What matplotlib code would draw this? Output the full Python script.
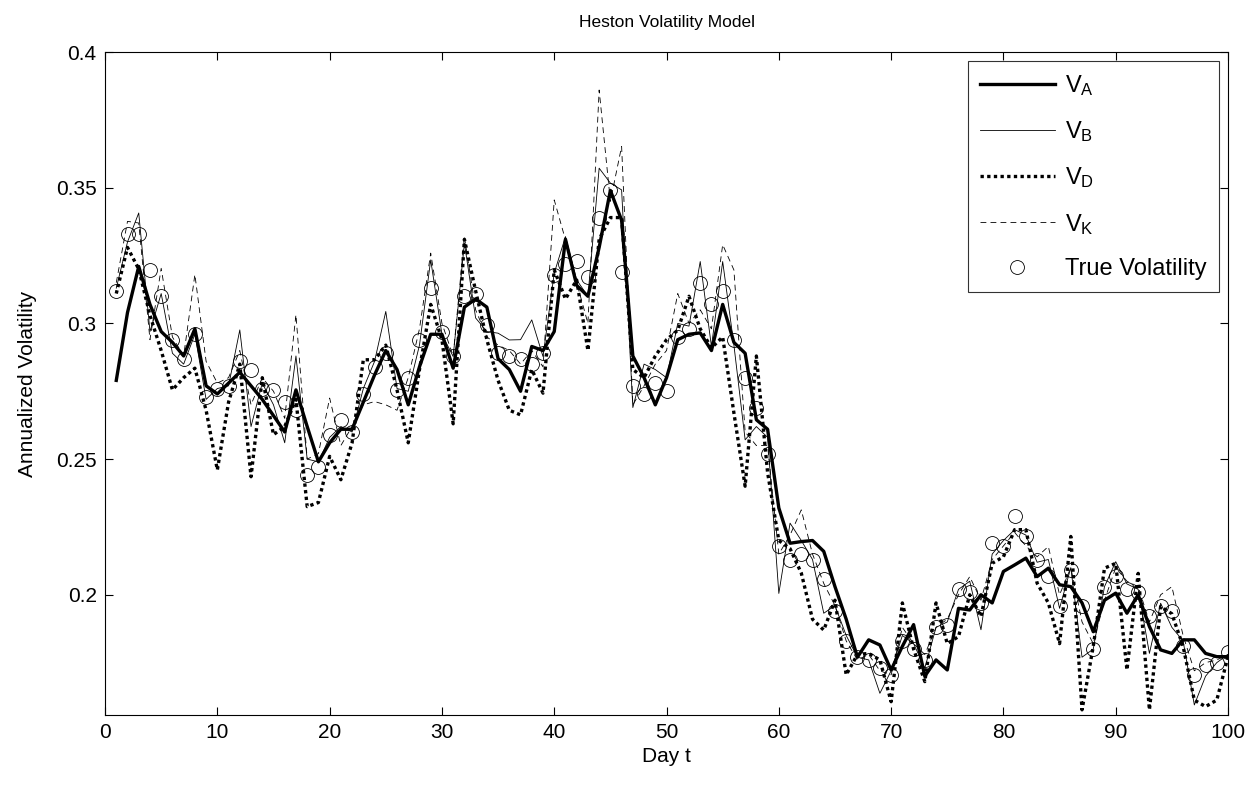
import numpy as np
import matplotlib
matplotlib.use("Agg")
import matplotlib.pyplot as plt

plt.rcParams['font.family'] = ['Liberation Sans', 'DejaVu Sans']

days = np.arange(1, 101)

true_vol = [0.312, 0.333, 0.333, 0.3195, 0.310, 0.294, 0.287, 0.296, 0.273, 0.276,
            0.277, 0.286, 0.283, 0.276, 0.2755, 0.271, 0.268, 0.244, 0.247, 0.259,
            0.2645, 0.260, 0.274, 0.284, 0.289, 0.2755, 0.280, 0.294, 0.313, 0.297,
            0.288, 0.310, 0.311, 0.2995, 0.289, 0.288, 0.287, 0.285, 0.289, 0.318,
            0.322, 0.323, 0.317, 0.339, 0.349, 0.319, 0.277, 0.274, 0.278, 0.275,
            0.295, 0.298, 0.315, 0.307, 0.312, 0.294, 0.280, 0.269, 0.252, 0.218,
            0.213, 0.215, 0.213, 0.206, 0.194, 0.183, 0.177, 0.176, 0.173, 0.1705,
            0.183, 0.180, 0.176, 0.188, 0.189, 0.202, 0.201, 0.197, 0.219, 0.218,
            0.229, 0.2215, 0.213, 0.207, 0.196, 0.209, 0.196, 0.180, 0.203, 0.207,
            0.202, 0.201, 0.192, 0.196, 0.194, 0.181, 0.1705, 0.174, 0.175, 0.179]

v_a = [0.279, 0.304, 0.321, 0.307, 0.297, 0.293, 0.288, 0.298, 0.277, 0.274,
       0.278, 0.282, 0.277, 0.272, 0.266, 0.260, 0.2755, 0.262, 0.249, 0.256,
       0.261, 0.261, 0.271, 0.281, 0.290, 0.283, 0.270, 0.284, 0.296, 0.296,
       0.2835, 0.306, 0.309, 0.306, 0.287, 0.283, 0.275, 0.2915, 0.290, 0.297,
       0.331, 0.314, 0.310, 0.328, 0.349, 0.338, 0.288, 0.280, 0.270, 0.280,
       0.294, 0.296, 0.2965, 0.290, 0.307, 0.293, 0.289, 0.2645, 0.261, 0.232,
       0.219, 0.2196, 0.220, 0.216, 0.203, 0.191, 0.177, 0.1834, 0.1815, 0.1723,
       0.181, 0.189, 0.170, 0.176, 0.1723, 0.195, 0.1944, 0.200, 0.197, 0.2086,
       0.211, 0.2135, 0.2067, 0.2098, 0.2037, 0.203, 0.197, 0.1864, 0.198, 0.2006,
       0.1932, 0.200, 0.1883, 0.1797, 0.1784, 0.1834, 0.1834, 0.1784, 0.1772, 0.1772]

v_b = [0.313, 0.330, 0.3407, 0.297, 0.311, 0.289, 0.285, 0.296, 0.272, 0.276,
       0.277, 0.2976, 0.262, 0.278, 0.270, 0.256, 0.288, 0.250, 0.249, 0.258,
       0.262, 0.260, 0.276, 0.286, 0.3044, 0.276, 0.275, 0.292, 0.3234, 0.296,
       0.2878, 0.3296, 0.302, 0.297, 0.2964, 0.2939, 0.294, 0.3013, 0.2878, 0.3185,
       0.332, 0.316, 0.310, 0.3572, 0.3517, 0.3492, 0.269, 0.285, 0.283, 0.280,
       0.300, 0.299, 0.3228, 0.2915, 0.3228, 0.292, 0.2571, 0.262, 0.258, 0.2005,
       0.2264, 0.220, 0.213, 0.1932, 0.196, 0.185, 0.177, 0.176, 0.1637, 0.172,
       0.185, 0.182, 0.173, 0.188, 0.190, 0.202, 0.205, 0.1871, 0.215, 0.220,
       0.224, 0.222, 0.212, 0.213, 0.195, 0.210, 0.177, 0.180, 0.203, 0.2122,
       0.204, 0.202, 0.1784, 0.1969, 0.188, 0.183, 0.1594, 0.170, 0.175, 0.178]

v_d = [0.311, 0.328, 0.320, 0.303, 0.290, 0.2755, 0.280, 0.2835, 0.268, 0.246,
       0.271, 0.285, 0.2435, 0.280, 0.259, 0.262, 0.272, 0.2325, 0.234, 0.251,
       0.2424, 0.256, 0.2866, 0.2866, 0.292, 0.2755, 0.256, 0.283, 0.307, 0.294,
       0.263, 0.331, 0.312, 0.294, 0.279, 0.268, 0.2663, 0.283, 0.2743, 0.3197,
       0.309, 0.316, 0.290, 0.331, 0.339, 0.339, 0.283, 0.280, 0.288, 0.294,
       0.2975, 0.310, 0.298, 0.291, 0.295, 0.267, 0.240, 0.288, 0.245, 0.220,
       0.217, 0.208, 0.191, 0.187, 0.198, 0.1705, 0.178, 0.1784, 0.176, 0.1606,
       0.197, 0.180, 0.168, 0.197, 0.182, 0.1846, 0.200, 0.192, 0.2116, 0.214,
       0.224, 0.224, 0.2043, 0.197, 0.182, 0.2215, 0.1576, 0.181, 0.2098, 0.2116,
       0.1723, 0.2079, 0.1576, 0.1957, 0.193, 0.181, 0.1612, 0.1588, 0.1612, 0.1772]

v_k = [0.315, 0.3376, 0.337, 0.294, 0.3203, 0.295, 0.288, 0.318, 0.286, 0.278,
       0.280, 0.290, 0.270, 0.280, 0.275, 0.265, 0.3032, 0.250, 0.252, 0.2725,
       0.255, 0.262, 0.270, 0.2712, 0.270, 0.268, 0.280, 0.298, 0.3259, 0.300,
       0.288, 0.332, 0.305, 0.295, 0.292, 0.290, 0.285, 0.290, 0.284, 0.3455,
       0.3308, 0.315, 0.300, 0.386, 0.345, 0.3652, 0.270, 0.277, 0.285, 0.290,
       0.311, 0.300, 0.305, 0.298, 0.329, 0.3197, 0.260, 0.255, 0.255, 0.215,
       0.222, 0.2313, 0.215, 0.2042, 0.196, 0.183, 0.176, 0.178, 0.172, 0.1705,
       0.188, 0.182, 0.178, 0.188, 0.191, 0.200, 0.2067, 0.198, 0.213, 0.218,
       0.223, 0.218, 0.214, 0.2178, 0.200, 0.210, 0.190, 0.182, 0.198, 0.210,
       0.205, 0.203, 0.190, 0.200, 0.203, 0.185, 0.172, 0.175, 0.176, 0.178]

fig = plt.figure(figsize=(12.55, 7.98), dpi=100)
ax = fig.add_axes([0.0837, 0.104, 0.8948, 0.8308])

ax.plot(days, v_a, color='black', lw=2.4, label=r'$\mathregular{V_A}$')
ax.plot(days, v_b, color='black', lw=0.6, label=r'$\mathregular{V_B}$')
ax.plot(days, v_d, color='black', lw=2.4, ls=(0, (1, 1)), label=r'$\mathregular{V_D}$')
ax.plot(days, v_k, color='black', lw=0.6, ls=(0, (7, 5)), label=r'$\mathregular{V_K}$')
ax.plot(days, true_vol, 'o', ms=10, mfc='none', mec='black', mew=0.6,
        label='True Volatility')

ax.set_xlim(0, 100)
ax.set_ylim(0.1557, 0.4)
ax.set_xticks(np.arange(0, 101, 10))
ax.set_yticks([0.2, 0.25, 0.3, 0.35, 0.4])
ax.set_yticklabels(['0.2', '0.25', '0.3', '0.35', '0.4'])
ax.tick_params(direction='in', top=True, right=True, labelsize=15, length=6, width=0.8, pad=6)
for s in ax.spines.values():
    s.set_linewidth(0.8)

ax.set_xlabel('Day t', fontsize=15, labelpad=3)
ax.set_ylabel('Annualized Volatility', fontsize=15, labelpad=14)
ax.set_title('Heston Volatility Model', fontsize=12.5, pad=18)

leg = ax.legend(loc='upper right', fontsize=17, handlelength=3.2, frameon=True,
                fancybox=False, edgecolor='black', borderpad=0.5, labelspacing=0.9,
                handletextpad=0.42, borderaxespad=0.4)
leg.get_frame().set_linewidth(0.8)

fig.savefig('out.png', dpi=100)
